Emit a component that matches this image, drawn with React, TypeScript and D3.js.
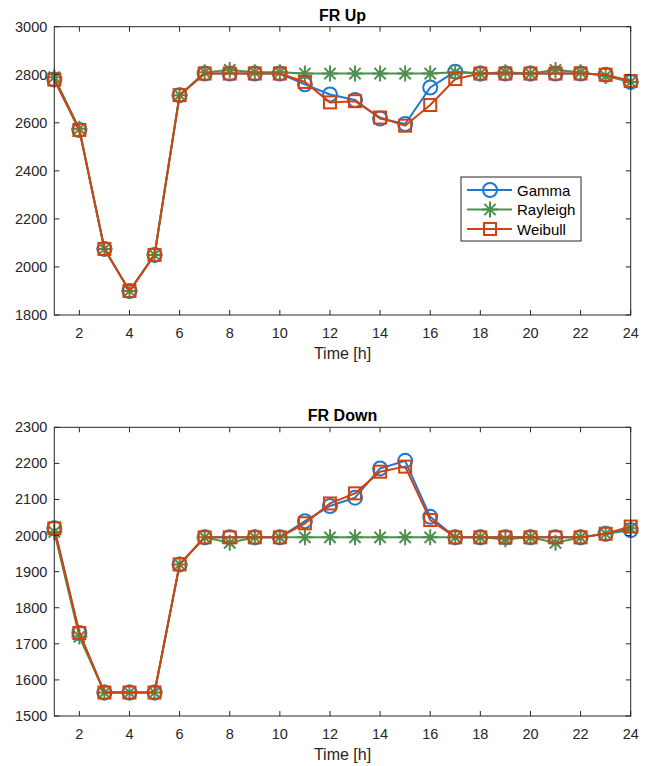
import React, { useEffect, useRef } from 'react';
import * as d3 from 'd3';

const width = 653;
const height = 766;
const hours = d3.range(1, 25);
const xTicks = [2, 4, 6, 8, 10, 12, 14, 16, 18, 20, 22, 24];

const upGamma = [2780, 2570, 2075, 1900, 2050, 2715, 2805, 2805, 2805, 2805, 2760, 2718, 2695, 2618, 2595, 2747, 2813, 2805, 2805, 2805, 2805, 2805, 2800, 2770];
const upRayleigh = [2790, 2575, 2075, 1900, 2050, 2715, 2810, 2820, 2810, 2810, 2805, 2805, 2805, 2805, 2805, 2805, 2810, 2805, 2810, 2805, 2820, 2810, 2795, 2770];
const upWeibull = [2780, 2570, 2075, 1900, 2050, 2715, 2805, 2805, 2805, 2805, 2770, 2685, 2690, 2622, 2588, 2674, 2782, 2805, 2805, 2805, 2805, 2805, 2800, 2774];
const upTicks = [1800, 2000, 2200, 2400, 2600, 2800, 3000];

const downGamma = [2020, 1730, 1565, 1565, 1565, 1920, 1995, 1995, 1995, 1995, 2040, 2082, 2105, 2186, 2207, 2052, 1995, 1995, 1995, 1995, 1995, 1995, 2005, 2015];
const downRayleigh = [2010, 1720, 1565, 1565, 1565, 1920, 1995, 1980, 1995, 1995, 1995, 1995, 1995, 1995, 1995, 1995, 1995, 1995, 1990, 1995, 1980, 1995, 2005, 2020];
const downWeibull = [2020, 1730, 1565, 1565, 1565, 1920, 1995, 1995, 1995, 1995, 2034, 2089, 2117, 2177, 2191, 2043, 1995, 1995, 1995, 1995, 1995, 1995, 2005, 2025];
const downTicks = [1500, 1600, 1700, 1800, 1900, 2000, 2100, 2200, 2300];

const seriesNames = ['Gamma', 'Rayleigh', 'Weibull'];
const colors = ['#1f77d0', '#4e8f4e', '#d2420f'];
const font = 'Liberation Sans, Arial, sans-serif';

function drawMarker(g, kind, x, y, color) {
  if (kind === 0) {
    g.append('circle').attr('cx', x).attr('cy', y).attr('r', 7)
      .attr('fill', 'none').attr('stroke', color).attr('stroke-width', 2);
  } else if (kind === 1) {
    const r = 8;
    const d = r * Math.SQRT1_2;
    const p = `M${x - r},${y}L${x + r},${y}M${x},${y - r}L${x},${y + r}M${x - d},${y - d}L${x + d},${y + d}M${x - d},${y + d}L${x + d},${y - d}`;
    g.append('path').attr('d', p).attr('stroke', color).attr('stroke-width', 2).attr('fill', 'none');
  } else {
    g.append('rect').attr('x', x - 6).attr('y', y - 6).attr('width', 12).attr('height', 12)
      .attr('fill', 'none').attr('stroke', color).attr('stroke-width', 2);
  }
}

function drawPanel(svg, box, title, domain, ticks, series, legend) {
  const x = d3.scaleLinear().domain([1, 24]).range([box.left, box.right]);
  const y = d3.scaleLinear().domain(domain).range([box.bottom, box.top]);
  const g = svg.append('g');

  g.append('rect').attr('x', box.left).attr('y', box.top)
    .attr('width', box.right - box.left).attr('height', box.bottom - box.top)
    .attr('fill', '#fff');

  const line = d3.line<number>()
    .x((d, i) => x(hours[i]))
    .y(d => y(d));

  series.forEach((data, k) => {
    g.append('path').attr('d', line(data)).attr('fill', 'none')
      .attr('stroke', colors[k]).attr('stroke-width', 2);
    data.forEach((v, i) => drawMarker(g, k, x(hours[i]), y(v), colors[k]));
  });

  // axes box with inward ticks
  const axis = g.append('g').attr('stroke', '#262626').attr('stroke-width', 1);
  axis.append('rect').attr('x', box.left).attr('y', box.top)
    .attr('width', box.right - box.left).attr('height', box.bottom - box.top)
    .attr('fill', 'none');
  xTicks.forEach(t => {
    axis.append('line').attr('x1', x(t)).attr('x2', x(t)).attr('y1', box.bottom).attr('y2', box.bottom - 5);
    axis.append('line').attr('x1', x(t)).attr('x2', x(t)).attr('y1', box.top).attr('y2', box.top + 5);
    g.append('text').attr('x', x(t)).attr('y', box.bottom + 23).attr('text-anchor', 'middle')
      .attr('font-family', font).attr('font-size', 14.5).attr('fill', '#262626').text(t);
  });
  ticks.forEach(t => {
    axis.append('line').attr('x1', box.left).attr('x2', box.left + 5).attr('y1', y(t)).attr('y2', y(t));
    axis.append('line').attr('x1', box.right).attr('x2', box.right - 5).attr('y1', y(t)).attr('y2', y(t));
    g.append('text').attr('x', box.left - 7).attr('y', y(t) + 5).attr('text-anchor', 'end')
      .attr('font-family', font).attr('font-size', 14.5).attr('fill', '#262626').text(t);
  });

  g.append('text').attr('x', (box.left + box.right) / 2).attr('y', box.top - 6)
    .attr('text-anchor', 'middle').attr('font-family', font).attr('font-size', 16)
    .attr('font-weight', 'bold').attr('fill', '#000').text(title);
  g.append('text').attr('x', (box.left + box.right) / 2).attr('y', box.bottom + 44)
    .attr('text-anchor', 'middle').attr('font-family', font).attr('font-size', 16)
    .attr('fill', '#262626').text('Time [h]');

  if (legend) {
    const lg = g.append('g').attr('transform', `translate(${legend.x}, ${legend.y})`);
    lg.append('rect').attr('width', 120).attr('height', 64).attr('fill', '#fff')
      .attr('stroke', '#262626').attr('stroke-width', 1);
    seriesNames.forEach((name, k) => {
      const yy = 13 + k * 19.5;
      lg.append('line').attr('x1', 6).attr('x2', 51).attr('y1', yy).attr('y2', yy)
        .attr('stroke', colors[k]).attr('stroke-width', 2);
      drawMarker(lg, k, 29, yy, colors[k]);
      lg.append('text').attr('x', 56).attr('y', yy + 5.5).attr('font-family', font)
        .attr('font-size', 15).attr('fill', '#000').text(name);
    });
  }
}

export default function App() {
  const ref = useRef(null);

  useEffect(() => {
    const svg = d3.select(ref.current);
    svg.selectAll('*').remove();
    svg.append('rect').attr('width', width).attr('height', height).attr('fill', '#fff');

    drawPanel(svg, { left: 54.3, right: 630.7, top: 26.7, bottom: 315 }, 'FR Up',
      [1800, 3000], upTicks, [upGamma, upRayleigh, upWeibull], { x: 461, y: 177 });
    drawPanel(svg, { left: 54.3, right: 630.7, top: 427.3, bottom: 716 }, 'FR Down',
      [1500, 2300], downTicks, [downGamma, downRayleigh, downWeibull], null);
  }, []);

  return (
    <svg ref={ref} width={width} height={height}
      style={{ position: 'absolute', left: 0, top: 0, display: 'block' }} />
  );
}
